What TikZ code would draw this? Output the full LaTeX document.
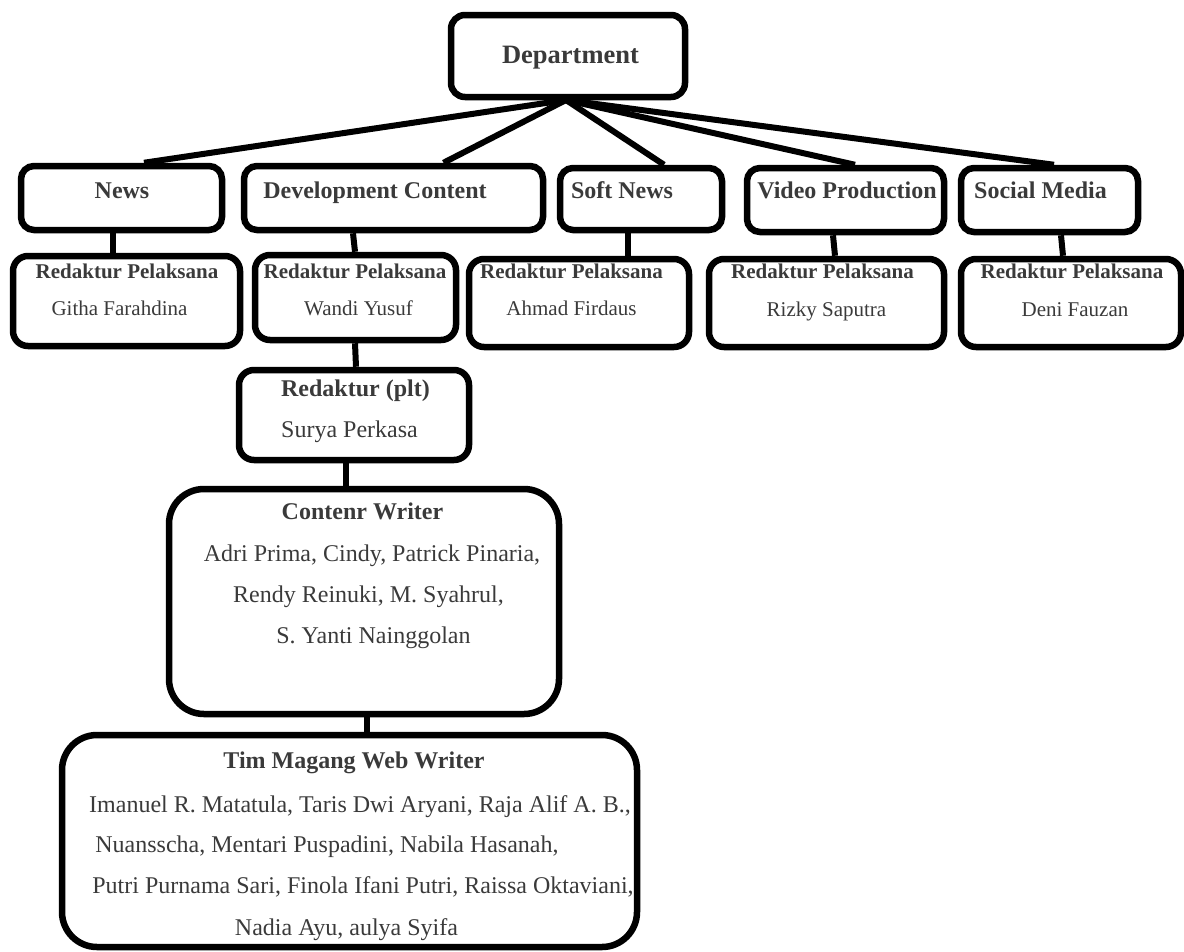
\documentclass[tikz,border=0pt]{standalone}
\usepackage{fontspec}
\setmainfont{Liberation Serif}
\definecolor{txt}{HTML}{3A3A3A}
\tikzset{
  box/.style={draw=black, line width=6.5pt, rounded corners=#1, inner sep=0pt},
  box/.default=13pt,
  link/.style={draw=black, line width=6pt},
  lbl/.style={anchor=base, inner sep=0pt, text=txt},
  dhd/.style={lbl, font=\fontsize{26.5}{30}\selectfont\bfseries},
  hd/.style={lbl, font=\fontsize{24}{28}\selectfont\bfseries},
  nm/.style={lbl, font=\fontsize{24}{28}\selectfont},
  rhd/.style={lbl, font=\fontsize{21}{25}\selectfont\bfseries},
  rnm/.style={lbl, font=\fontsize{21}{25}\selectfont},
}
\begin{document}
\begin{tikzpicture}[x=1pt,y=-1pt]
\useasboundingbox (0,0) rectangle (1184,951);
% top
\node[box=14pt, minimum width=234pt, minimum height=82pt] (dept) at (568,56) {};
\node[dhd] (tdept) at (570.5,63) {Department};
% level 1
\node[box, minimum width=201pt, minimum height=64pt] (news) at (121.5,198) {};
\node[box, minimum width=299pt, minimum height=64pt] (dev) at (393.5,198) {};
\node[box, minimum width=162pt, minimum height=62pt] (soft) at (641,199) {};
\node[box, minimum width=197pt, minimum height=64pt] (video) at (845.5,200) {};
\node[box, minimum width=177pt, minimum height=64pt] (social) at (1049.5,200) {};
\node[hd] (tnews) at (122,198) {News};
\node[hd] (tdev) at (375,198) {Development Content};
\node[hd] (tsoft) at (622,198) {Soft News};
\node[hd] (tvideo) at (847,198) {Video Production};
\node[hd] (tsocial) at (1040.5,198) {Social Media};
% level 2
\node[box=15pt, minimum width=227pt, minimum height=90pt] (githa) at (126.5,301) {};
\node[box=15pt, minimum width=201pt, minimum height=85pt] (wandi) at (355.5,297.5) {};
\node[box=15pt, minimum width=220pt, minimum height=88pt] (ahmad) at (579,303) {};
\node[box=15pt, minimum width=235pt, minimum height=88pt] (rizky) at (826.5,303) {};
\node[box=15pt, minimum width=220pt, minimum height=88pt] (deni) at (1071,303) {};
\node[rhd] (rg) at (127,278) {Redaktur Pelaksana};
\node[rnm] (ng) at (119.5,315) {Githa Farahdina};
\node[rhd] (rw) at (355,278) {Redaktur Pelaksana};
\node[rnm] (nw) at (358.5,315) {Wandi Yusuf};
\node[rhd] (ra) at (571.5,278) {Redaktur Pelaksana};
\node[rnm] (na) at (571.5,315) {Ahmad Firdaus};
\node[rhd] (rr) at (822.5,278) {Redaktur Pelaksana};
\node[rnm] (nr) at (826.5,316) {Rizky Saputra};
\node[rhd] (rd) at (1072,278) {Redaktur Pelaksana};
\node[rnm] (nd) at (1075,316) {Deni Fauzan};
% plt
\node[box=15pt, minimum width=230pt, minimum height=90pt] (plt) at (354,415) {};
\node[hd] (tplt) at (355.5,396) {Redaktur (plt)};
\node[nm] (nplt) at (349.5,437) {Surya Perkasa};
% content writer
\node[box=35pt, minimum width=390pt, minimum height=225pt] (cw) at (364,601.5) {};
\node[hd] (tcw) at (362.5,519) {Contenr Writer};
\node[nm] (cw1) at (372,561) {Adri Prima, Cindy, Patrick Pinaria,};
\node[nm] (cw2) at (368.5,602) {Rendy Reinuki, M. Syahrul,};
\node[nm] (cw3) at (373.5,643) {S. Yanti Nainggolan};
% tim magang
\node[box=35pt, minimum width=575pt, minimum height=212pt] (tim) at (349.5,841) {};
\node[hd] (ttim) at (354,768) {Tim Magang Web Writer};
\node[nm] (tm1) at (360,812) {Imanuel R. Matatula, Taris Dwi Aryani, Raja Alif A. B.,};
\node[nm] (tm2) at (327,852) {Nuansscha, Mentari Puspadini, Nabila Hasanah,};
\node[nm] (tm3) at (363,893) {Putri Purnama Sari, Finola Ifani Putri, Raissa Oktaviani,};
\node[nm] (tm4) at (346.5,935) {Nadia Ayu, aulya Syifa};
% connectors
\coordinate (hub) at (566,100);
\draw[link] (hub) -- ([xshift=22.5pt]news.north);
\draw[link] (hub) -- ([xshift=50pt]dev.north);
\draw[link] (hub) -- ([xshift=23pt]soft.north);
\draw[link] (hub) -- ([xshift=9.5pt]video.north);
\draw[link] (hub) -- ([xshift=4.5pt]social.north);
\draw[link] ([xshift=-8.5pt]news.south) -- ([xshift=-13.5pt]githa.north);
\draw[link] ([xshift=-40.5pt]dev.south) -- ([xshift=-0.5pt]wandi.north);
\draw[link] ([xshift=-13pt]soft.south) -- ([xshift=49pt]ahmad.north);
\draw[link] ([xshift=-12.5pt]video.south) -- ([xshift=8.5pt]rizky.north);
\draw[link] ([xshift=11.5pt]social.south) -- ([xshift=-8pt]deni.north);
\draw[link] ([xshift=-0.5pt]wandi.south) -- ([xshift=2pt]plt.north);
\draw[link] ([xshift=-8pt]plt.south) -- ([xshift=-18pt]cw.north);
\draw[link] ([xshift=3pt]cw.south) -- ([xshift=17.5pt]tim.north);
\end{tikzpicture}
\end{document}
